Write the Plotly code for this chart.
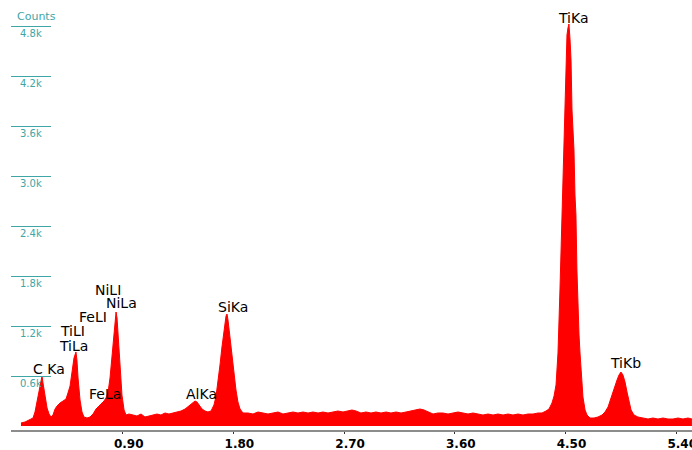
import plotly.graph_objects as go

# Spectrum (energy in keV, counts)
energy = [0.073, 0.106, 0.138, 0.171, 0.187, 0.203, 0.220, 0.236, 0.244, 0.252, 0.268, 0.285, 0.301, 0.317,
          0.333, 0.350, 0.366, 0.390, 0.415, 0.439, 0.455, 0.472, 0.488, 0.504, 0.520, 0.528, 0.537, 0.553,
          0.569, 0.585, 0.610, 0.634, 0.659, 0.683, 0.707, 0.732, 0.748, 0.764, 0.780, 0.797, 0.813, 0.829,
          0.846, 0.854, 0.862, 0.878, 0.894, 0.911, 0.927, 0.951, 0.984, 1.016, 1.049, 1.081, 1.114, 1.146,
          1.179, 1.211, 1.244, 1.276, 1.309, 1.341, 1.374, 1.407, 1.439, 1.463, 1.488, 1.504, 1.520, 1.545,
          1.569, 1.593, 1.618, 1.642, 1.659, 1.675, 1.691, 1.707, 1.724, 1.740, 1.748, 1.756, 1.772, 1.789,
          1.805, 1.821, 1.837, 1.854, 1.878, 1.919, 1.959, 2.000, 2.041, 2.081, 2.122, 2.163, 2.203, 2.244,
          2.285, 2.325, 2.366, 2.407, 2.447, 2.488, 2.528, 2.569, 2.610, 2.650, 2.691, 2.732, 2.764, 2.797,
          2.837, 2.878, 2.919, 2.959, 3.000, 3.041, 3.081, 3.122, 3.163, 3.203, 3.244, 3.285, 3.317, 3.350,
          3.382, 3.423, 3.463, 3.504, 3.545, 3.585, 3.626, 3.667, 3.707, 3.748, 3.789, 3.829, 3.870, 3.911,
          3.951, 3.992, 4.033, 4.073, 4.114, 4.154, 4.195, 4.236, 4.276, 4.309, 4.341, 4.366, 4.390, 4.407,
          4.423, 4.439, 4.455, 4.463, 4.472, 4.480, 4.488, 4.496, 4.504, 4.512, 4.520, 4.528, 4.537, 4.545,
          4.553, 4.561, 4.569, 4.577, 4.585, 4.593, 4.602, 4.610, 4.618, 4.626, 4.642, 4.659, 4.675, 4.699,
          4.732, 4.764, 4.797, 4.821, 4.846, 4.870, 4.894, 4.919, 4.935, 4.951, 4.967, 4.984, 5.000, 5.016,
          5.033, 5.057, 5.089, 5.130, 5.171, 5.211, 5.252, 5.293, 5.333, 5.374, 5.415, 5.455, 5.496, 5.528]
counts = [36, 48, 72, 96, 168, 288, 432, 576, 600, 516, 348, 216, 144, 108,
          132, 204, 240, 276, 300, 324, 396, 480, 648, 816, 888, 792, 576, 312,
          168, 108, 96, 108, 144, 204, 240, 276, 300, 336, 396, 576, 852, 1152,
          1368, 1296, 1128, 768, 372, 192, 132, 144, 132, 120, 144, 108, 120, 132,
          144, 132, 156, 144, 156, 168, 180, 204, 240, 264, 300, 288, 252, 204,
          180, 168, 180, 252, 360, 528, 732, 948, 1152, 1320, 1344, 1272, 1068, 852,
          612, 432, 288, 204, 156, 156, 144, 168, 156, 144, 156, 168, 144, 156,
          168, 156, 168, 156, 168, 156, 168, 156, 168, 180, 168, 180, 192, 180,
          156, 168, 156, 168, 156, 168, 156, 168, 156, 168, 180, 192, 204, 192,
          168, 144, 156, 156, 144, 156, 168, 156, 144, 156, 144, 132, 144, 132,
          144, 132, 144, 132, 144, 132, 144, 144, 156, 156, 180, 204, 276, 360,
          492, 876, 1632, 2076, 2772, 3192, 3588, 4032, 4548, 4692, 4776, 4824, 4632, 4392,
          3792, 3588, 3312, 2772, 2532, 1872, 1392, 1092, 876, 672, 348, 192, 132, 96,
          96, 108, 132, 168, 228, 336, 456, 552, 612, 648, 612, 528, 408, 288,
          192, 132, 108, 96, 84, 96, 84, 96, 84, 84, 96, 84, 96, 84]

# Peak labels
peak_labels = ["TiKa", "TiKb", "SiKa", "AlKa", "NiLI", "NiLa", "FeLI", "TiLI", "TiLa", "C Ka", "FeLa"]
label_energy = [4.569, 4.984, 1.797, 1.537, 0.780, 0.894, 0.659, 0.488, 0.496, 0.301, 0.756]
label_counts = [4896, 756, 1428, 384, 1632, 1476, 1308, 1140, 960, 684, 384]

# Axis ticks
x_tickvals = [0.9, 1.8, 2.7, 3.6, 4.5, 5.4]
x_ticktext = ["0.90", "1.80", "2.70", "3.60", "4.50", "5.40"]
y_tickvals = [600, 1200, 1800, 2400, 3000, 3600, 4200, 4800]
y_ticktext = ["0.6k", "1.2k", "1.8k", "2.4k", "3.0k", "3.6k", "4.2k", "4.8k"]

TEAL = "#3ea6a6"

fig = go.Figure()
fig.add_trace(go.Scatter(
    x=energy, y=counts, mode="lines", fill="tozeroy",
    line=dict(color="#ff0000", width=1), fillcolor="#ff0000",
    hoverinfo="x+y", showlegend=False,
))

annotations = []
for t, e, c in zip(peak_labels, label_energy, label_counts):
    annotations.append(dict(
        x=e, y=c, xref="x", yref="y", text=t, showarrow=False,
        xanchor="center", yanchor="middle",
        font=dict(family="DejaVu Sans", size=14, color="#000000"),
    ))
for v, t in zip(y_tickvals, y_ticktext):
    annotations.append(dict(
        x=0.0301, y=v, xref="paper", yref="y", text=t, showarrow=False,
        xanchor="center", yanchor="middle", yshift=-7,
        font=dict(family="DejaVu Sans", size=10, color=TEAL),
    ))
annotations.append(dict(
    x=0.0374, y=0.9857, xref="paper", yref="paper", text="Counts", showarrow=False,
    xanchor="center", yanchor="middle",
    font=dict(family="DejaVu Sans", size=11, color=TEAL),
))

fig.update_layout(
    template="none",
    width=692, height=450,
    margin=dict(l=11, r=0, t=10, b=20, autoexpand=False),
    paper_bgcolor="white", plot_bgcolor="white",
    showlegend=False,
    annotations=annotations,
    xaxis=dict(
        range=[-0.00813, 5.5285], showgrid=False, zeroline=False,
        showline=True, linecolor="#8c8c8c", linewidth=2,
        ticks="outside", ticklen=2, tickcolor="#333333", tickwidth=1,
        tickvals=x_tickvals, ticktext=x_ticktext, ticklabelshift=6,
        ticklabeloverflow="allow",
        tickfont=dict(family="DejaVu Sans", size=12, color="#000000", weight="bold"),
        automargin=False,
    ),
    yaxis=dict(
        range=[-48, 4992], showgrid=False, zeroline=False, showline=False,
        ticks="inside", ticklen=40, tickcolor=TEAL, tickwidth=1,
        tickvals=y_tickvals, showticklabels=False, automargin=False,
    ),
)

fig.write_html(
    "out.html",
    config={"displayModeBar": False},
    post_script="document.body.style.margin='0px';document.body.style.overflow='hidden';",
)
